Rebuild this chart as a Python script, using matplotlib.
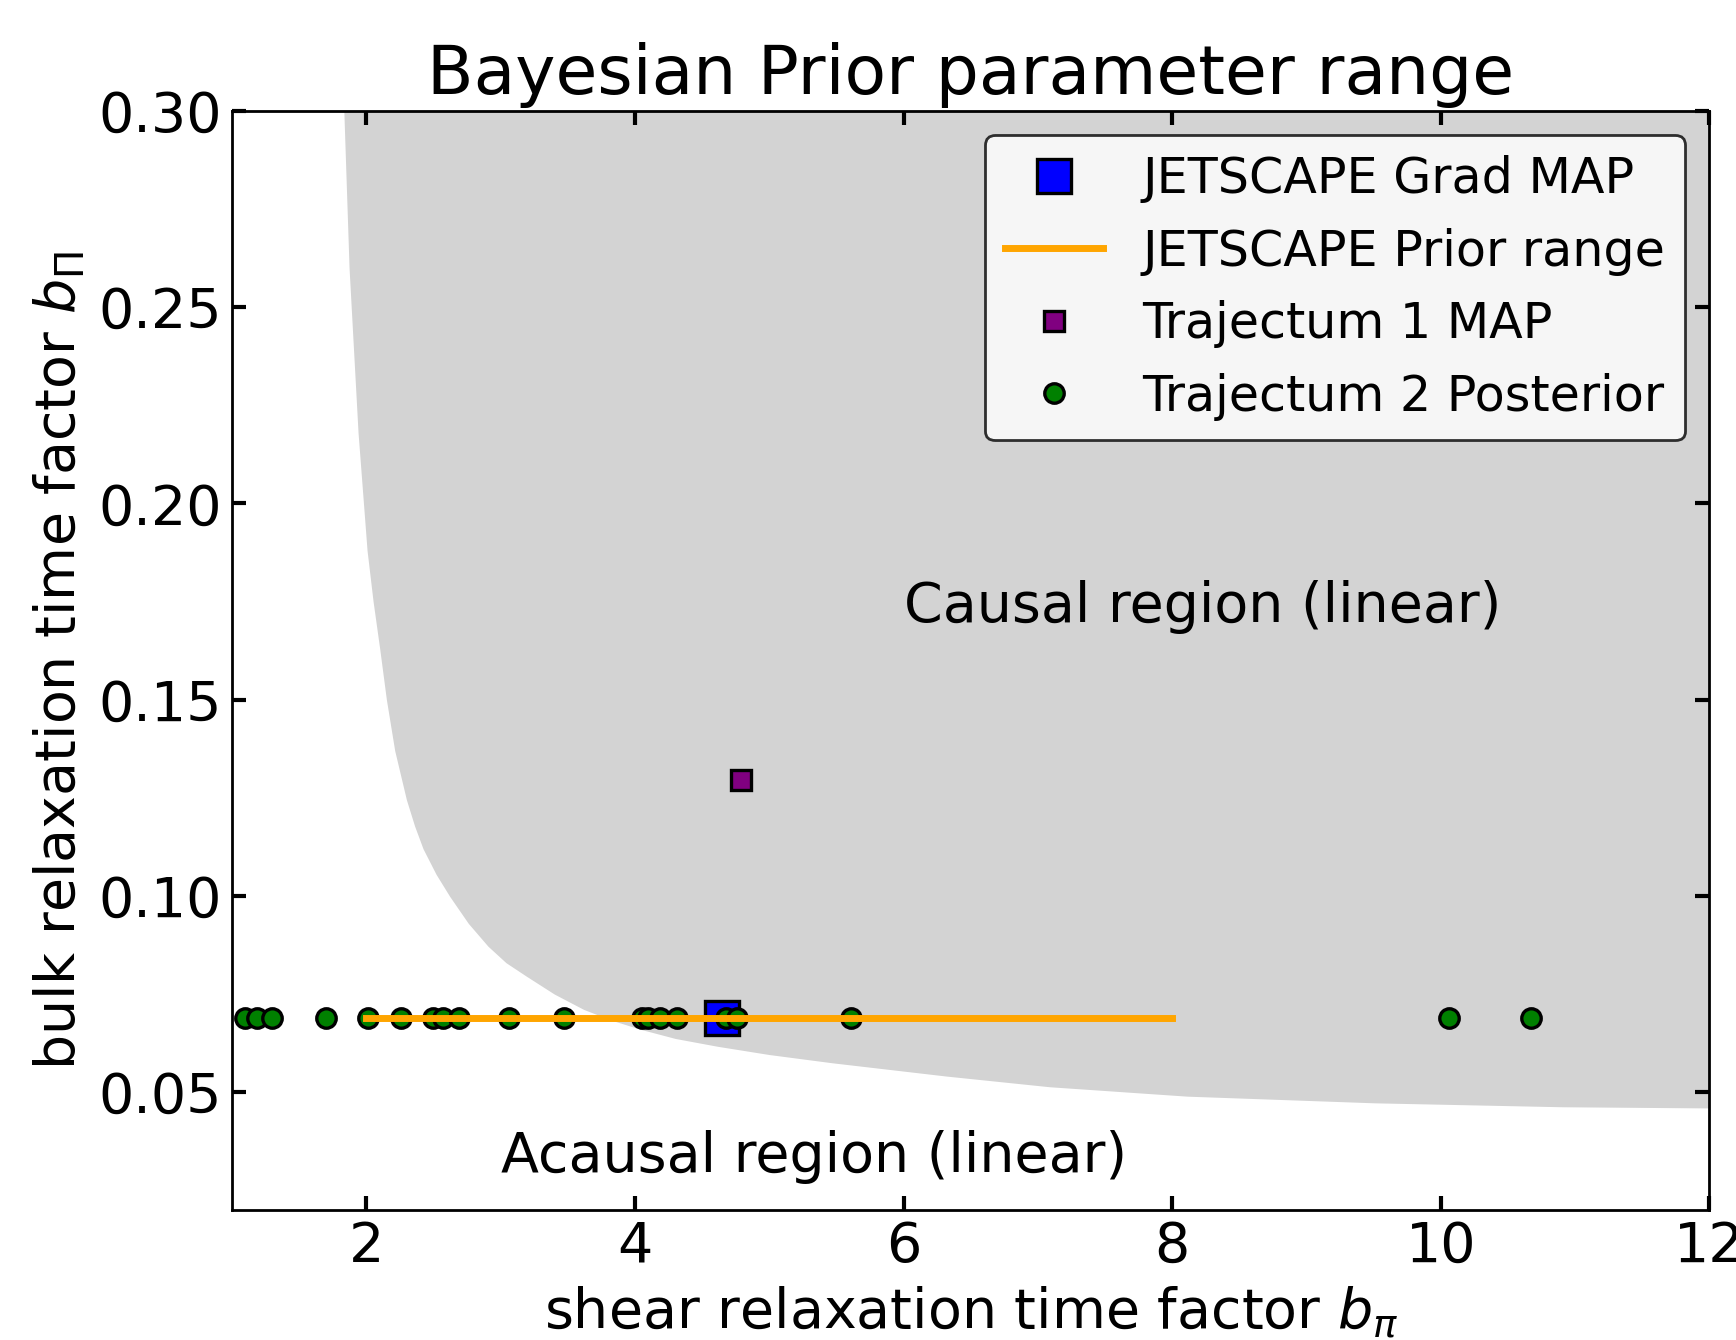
import matplotlib
matplotlib.use("Agg")
import matplotlib.pyplot as plt

# causal boundary (lower edge of the grey region)
bound_x = [1.833, 1.872, 1.939, 2.006, 2.051, 2.100, 2.150, 2.212, 2.299, 2.36,
           2.423, 2.52, 2.621, 2.76, 2.906, 3.04, 3.190, 3.40, 3.618, 3.83,
           4.045, 4.30, 4.615, 5.0, 5.469, 6.323, 7.086, 8.111, 9.508, 10.906, 12.0]
bound_y = [0.300, 0.260, 0.218, 0.188, 0.175, 0.163, 0.150, 0.137, 0.1245, 0.1178,
           0.112, 0.1055, 0.0999, 0.0930, 0.0872, 0.0830, 0.0796, 0.0750, 0.0711, 0.0683,
           0.0660, 0.0637, 0.0617, 0.0596, 0.0575, 0.0541, 0.0514, 0.0490, 0.0473, 0.0463, 0.0460]

# JETSCAPE
jet_map_x = [4.65]
jet_map_y = [0.069]
jet_prior_x = [2.0, 8.0]
jet_prior_y = [0.069, 0.069]

# Trajectum
traj1_x = [4.79]
traj1_y = [0.1295]
traj2_x = [1.10, 1.19, 1.30, 1.70, 2.01, 2.26, 2.50, 2.57, 2.69, 3.06,
           3.47, 4.05, 4.10, 4.19, 4.31, 4.68, 4.76, 5.61, 10.06, 10.67]
traj2_y = [0.069] * len(traj2_x)

fig = plt.figure(figsize=(8.68, 6.7), dpi=200)
ax = fig.add_axes([0.1336, 0.097, 0.9847 - 0.1336, 0.9174 - 0.097])

ax.fill_between(bound_x, bound_y, 0.30, color="lightgray", lw=0, zorder=1)

h1, = ax.plot(jet_map_x, jet_map_y, "s", color="blue", mec="black", mew=1.2,
              ms=12, ls="none", zorder=2, label="JETSCAPE Grad MAP")
h3, = ax.plot(traj1_x, traj1_y, "s", color="purple", mec="black", mew=1.2,
              ms=7, ls="none", zorder=2, label="Trajectum 1 MAP")
h4, = ax.plot(traj2_x, traj2_y, "o", color="green", mec="black", mew=1.2,
              ms=7, ls="none", zorder=3, label="Trajectum 2 Posterior")
h2, = ax.plot(jet_prior_x, jet_prior_y, color="orange", lw=2.5, zorder=4,
              label="JETSCAPE Prior range")

ax.text(6.0, 0.1735, "Causal region (linear)", fontsize=20, va="center")
ax.text(3.0, 0.0335, "Acausal region (linear)", fontsize=20, va="center")

ax.set_xlim(1, 12)
ax.set_ylim(0.02, 0.30)
ax.set_yticks([0.05, 0.10, 0.15, 0.20, 0.25, 0.30])
ax.set_xticks([2, 4, 6, 8, 10, 12])
ax.tick_params(direction="in", top=True, right=True, labelsize=20,
               length=5, width=1.5)
for s in ax.spines.values():
    s.set_linewidth(1.0)

ax.set_xlabel(r"shear relaxation time factor $b_\pi$", fontsize=20, labelpad=4)
ax.set_ylabel(r"bulk relaxation time factor $b_\Pi$", fontsize=20)
ax.set_title("Bayesian Prior parameter range", fontsize=24.5)

leg = ax.legend(handles=[h1, h2, h3, h4], loc="upper right", fontsize=17.7)
leg.get_frame().set_edgecolor("black")

fig.savefig("out.png", dpi=200)
